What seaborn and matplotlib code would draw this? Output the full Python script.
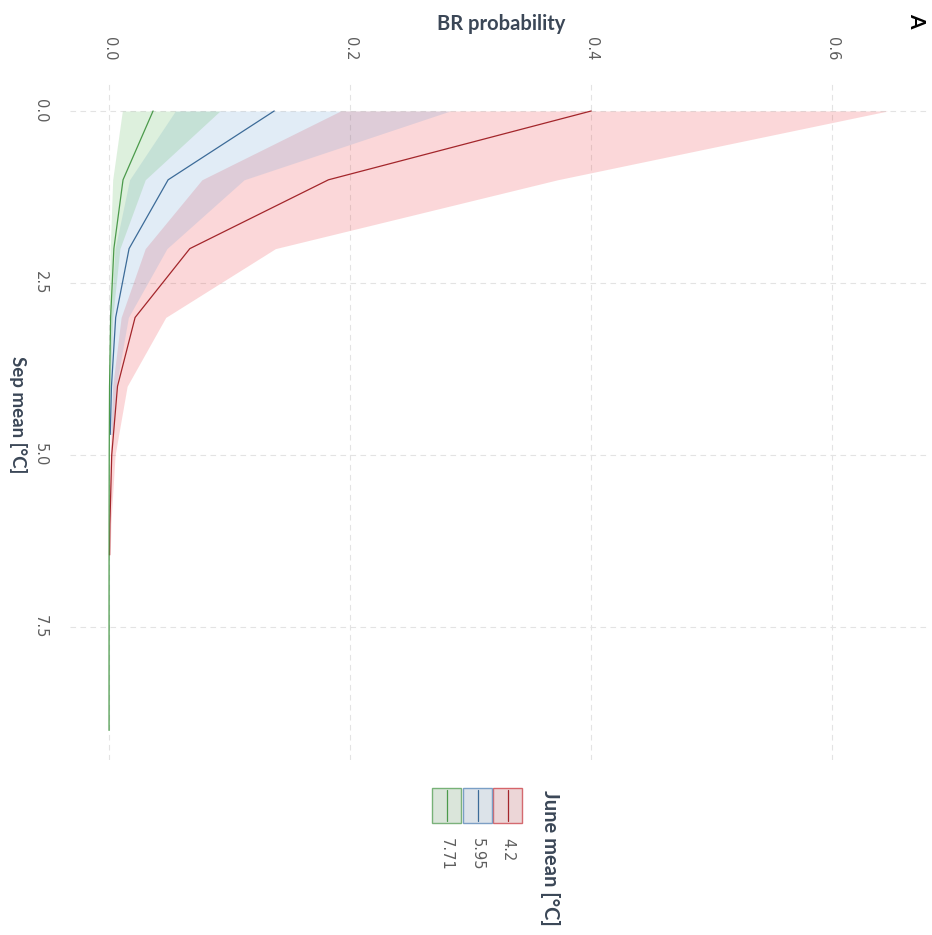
import matplotlib
matplotlib.use("Agg")
import matplotlib.pyplot as plt
from matplotlib.patches import Rectangle
from matplotlib.lines import Line2D
import seaborn as sns
import pandas as pd
import numpy as np

# ---- data ----
june_levels = ["4.2", "5.95", "7.71"]

sep_42 = [0, 1, 2, 3, 4, 5, 6, 6.45]
prob_42 = [0.400, 0.182, 0.067, 0.0216, 0.0070, 0.0022, 0.0007, 0.0004]
lo_42 = [0.192, 0.077, 0.030, 0.010, 0.003, 0.001, 0.0003, 0.0002]
hi_42 = [0.646, 0.372, 0.138, 0.047, 0.015, 0.005, 0.0015, 0.001]

sep_595 = [0, 1, 2, 3, 4, 4.7]
prob_595 = [0.137, 0.049, 0.0166, 0.0055, 0.0020, 0.0010]
lo_595 = [0.055, 0.017, 0.005, 0.0015, 0.0005, 0.0003]
hi_595 = [0.283, 0.112, 0.048, 0.016, 0.006, 0.003]

sep_771 = [0, 1, 2, 3, 4, 5, 6, 7, 8, 9]
prob_771 = [0.0365, 0.0116, 0.0040, 0.0013, 0.0004, 0.00013, 0.00004, 0.00001, 0.000004, 0.000001]
lo_771 = [0.011, 0.003, 0.001, 0.0003, 0.0001, 0.00003, 0.00001, 0.0, 0.0, 0.0]
hi_771 = [0.092, 0.030, 0.009, 0.003, 0.001, 0.0003, 0.0001, 0.00003, 0.00001, 0.000005]

xticks = [0.0, 0.2, 0.4, 0.6]
yticks = [0.0, 2.5, 5.0, 7.5]

groups = {
    "4.2": (sep_42, prob_42, lo_42, hi_42),
    "5.95": (sep_595, prob_595, lo_595, hi_595),
    "7.71": (sep_771, prob_771, lo_771, hi_771),
}

frames = []
for k, (s, p, lo, hi) in groups.items():
    frames.append(pd.DataFrame({"sep": s, "prob": p, "lo": lo, "hi": hi, "june": k}))
df = pd.concat(frames, ignore_index=True)

line_colors = {"4.2": "#a3262b", "5.95": "#3c6b98", "7.71": "#4b9a4b"}
fill_colors = {"4.2": "#ec3b42", "5.95": "#6aa2d6", "7.71": "#58b558"}
edge_colors = {"4.2": "#d46a70", "5.95": "#7d9fc4", "7.71": "#7cb27c"}

# ---- figure ----
W, H = 932, 935
fig = plt.figure(figsize=(W / 100, H / 100), dpi=100)
sns.set_style("white")
ax = fig.add_axes([70 / W, 1 - 760 / H, (930 - 70) / W, (760 - 80) / H])

for k in june_levels:
    sub = df[df.june == k]
    ax.fill_betweenx(sub["sep"], sub["lo"], sub["hi"], color=fill_colors[k],
                     alpha=0.2, lw=0, zorder=2)

sns.lineplot(data=df, x="prob", y="sep", hue="june", hue_order=june_levels,
             palette=line_colors, orient="y", estimator=None, sort=True,
             legend=False, lw=0.9, ax=ax, zorder=3)

ax.set_xlim(-0.0324, 0.681)
ax.set_ylim(9.43, -0.45)
ax.set_xticks(xticks)
ax.set_yticks(yticks)
ax.set_xticklabels([f"{t:.1f}" for t in xticks])
ax.set_yticklabels([f"{t:.1f}" for t in yticks])
ax.xaxis.tick_top()
ax.tick_params(axis="x", length=0, pad=14, labelsize=10.5, labelcolor="#5e5e5e",
               labelrotation=-90)
ax.tick_params(axis="y", length=0, pad=16, labelsize=10.5, labelcolor="#5e5e5e",
               labelrotation=-90)
for lab in ax.get_yticklabels():
    lab.set_va("center")
    lab.set_ha("right")
for lab in ax.get_xticklabels():
    lab.set_ha("center")
    lab.set_va("bottom")
for sp in ax.spines.values():
    sp.set_visible(False)
ax.grid(True, color="#e3e3e3", lw=0.8, ls=(0, (5, 4)))
ax.set_axisbelow(True)
ax.set_xlabel("")
ax.set_ylabel("")

title_color = "#3b4757"
fig.text(501 / W, 1 - 24 / H, "BR probability", ha="center", va="center",
         fontsize=14.5, fontweight="bold", color=title_color, family="Lato")
fig.text(18 / W, 1 - 415 / H, "Sep mean [°C]", ha="center", va="center",
         rotation=-90, fontsize=13.5, fontweight="bold", color=title_color, family="Lato")
fig.text(916 / W, 1 - 20 / H, "A", ha="center", va="center", rotation=-90,
         fontsize=15, fontweight="bold", color="black", family="Lato")

# ---- legend (rotated) ----
key_x = {"4.2": 493, "5.95": 463, "7.71": 432}
kw = 29
ky0, ky1 = 788, 823
for k in june_levels:
    x0 = key_x[k]
    r = Rectangle((x0 / W, 1 - ky1 / H), kw / W, (ky1 - ky0) / H,
                  transform=fig.transFigure, facecolor="#ececec",
                  edgecolor=edge_colors[k], lw=1.0)
    fig.patches.append(r)
    r2 = Rectangle((x0 / W, 1 - ky1 / H), kw / W, (ky1 - ky0) / H,
                   transform=fig.transFigure, facecolor=fill_colors[k],
                   alpha=0.12, lw=0)
    fig.patches.append(r2)
    xc = (x0 + kw / 2) / W
    fig.lines.append(Line2D([xc, xc], [1 - (ky0 + 2) / H, 1 - (ky1 - 2) / H],
                            transform=fig.transFigure, color=line_colors[k], lw=0.9))
    fig.text(xc, 1 - 838 / H, k, ha="center", va="top", rotation=-90,
             fontsize=10.5, color="#5e5e5e")
fig.text(550 / W, 1 - 790 / H, "June mean [°C]", ha="center", va="top",
         rotation=-90, fontsize=14.5, fontweight="bold", color=title_color, family="Lato")

fig.savefig("out.png", dpi=100, facecolor="white")
